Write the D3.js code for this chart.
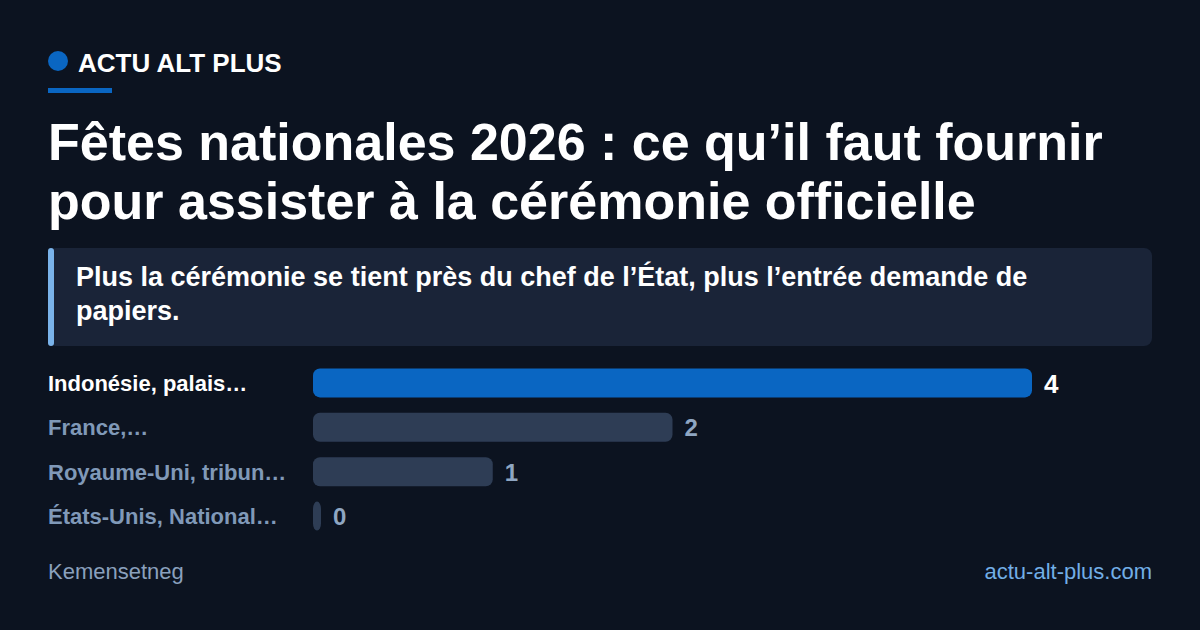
<!DOCTYPE html>
<html><head><meta charset="utf-8">
<script src="https://cdn.jsdelivr.net/npm/d3@7"></script>
<style>
html,body{margin:0;padding:0;background:#0c1320;}
svg{display:block;font-family:"Liberation Sans",Arial,Helvetica,sans-serif;}
</style></head>
<body>
<script>
const brand = "ACTU ALT PLUS";
const titleLines = ["Fêtes nationales 2026 : ce qu’il faut fournir", "pour assister à la cérémonie officielle"];
const subtitleLines = ["Plus la cérémonie se tient près du chef de l’État, plus l’entrée demande de", "papiers."];
const categories = ["Indonésie, palais…", "France,…", "Royaume-Uni, tribun…", "États-Unis, National…"];
const values = [4, 2, 1, 0];
const source = "Kemensetneg";
const site = "actu-alt-plus.com";

const W = 1200, H = 630;
const svg = d3.select("body").append("svg").attr("width", W).attr("height", H);
svg.append("rect").attr("width", W).attr("height", H).attr("fill", "#0c1320");

// brand
svg.append("circle").attr("cx", 58).attr("cy", 61).attr("r", 10).attr("fill", "#0a66c2");
svg.append("text").attr("x", 78).attr("y", 72).text(brand)
  .attr("fill", "#ffffff").attr("font-size", 26).attr("font-weight", 700);
svg.append("rect").attr("x", 48).attr("y", 88).attr("width", 64).attr("height", 5).attr("fill", "#0a66c2");

// title
svg.selectAll("text.title").data(titleLines).join("text").attr("class", "title")
  .attr("x", 48).attr("y", (d, i) => 160 + i * 59).text(d => d)
  .attr("fill", "#ffffff").attr("font-size", 52).attr("font-weight", 700);

// subtitle box
svg.append("rect").attr("x", 48).attr("y", 248).attr("width", 1104).attr("height", 98).attr("rx", 8).attr("fill", "#1a2438");
svg.append("rect").attr("x", 48).attr("y", 248).attr("width", 6).attr("height", 98).attr("rx", 3).attr("fill", "#7ab3ea");
svg.selectAll("text.sub").data(subtitleLines).join("text").attr("class", "sub")
  .attr("x", 76).attr("y", (d, i) => 286 + i * 34).text(d => d)
  .attr("fill", "#ffffff").attr("font-size", 27).attr("font-weight", 700);

// bars
const x = d3.scaleLinear().domain([0, d3.max(values)]).range([313, 1032]);
const y = d3.scaleBand().domain(categories).range([364, 535]).paddingInner(0.35).paddingOuter(0.1);
const bh = 29;
const rows = svg.selectAll("g.row").data(categories).join("g").attr("class", "row");
rows.append("rect")
  .attr("x", x(0))
  .attr("y", d => y(d) + y.bandwidth() / 2 - bh / 2)
  .attr("width", (d, i) => Math.max(8, x(values[i]) - x(0)))
  .attr("height", bh).attr("rx", 7)
  .attr("fill", (d, i) => i === 0 ? "#0a66c2" : "#2e3d55");
rows.append("text")
  .attr("x", 48).attr("y", d => y(d) + y.bandwidth() / 2 + 8)
  .text(d => d)
  .attr("fill", (d, i) => i === 0 ? "#ffffff" : "#8099b8")
  .attr("font-size", 22).attr("font-weight", 700);
rows.append("text")
  .attr("x", (d, i) => x(0) + Math.max(8, x(values[i]) - x(0)) + 12)
  .attr("y", (d, i) => y(d) + y.bandwidth() / 2 + (i === 0 ? 10 : 9))
  .text((d, i) => values[i])
  .attr("fill", (d, i) => i === 0 ? "#ffffff" : "#8fa6c2")
  .attr("font-size", (d, i) => i === 0 ? 26 : 24).attr("font-weight", 700);

// footer
svg.append("text").attr("x", 48).attr("y", 579).text(source)
  .attr("fill", "#8aa0bd").attr("font-size", 22);
svg.append("text").attr("x", 1152).attr("y", 579).attr("text-anchor", "end").text(site)
  .attr("fill", "#72aee6").attr("font-size", 22);
</script>
</body></html>
